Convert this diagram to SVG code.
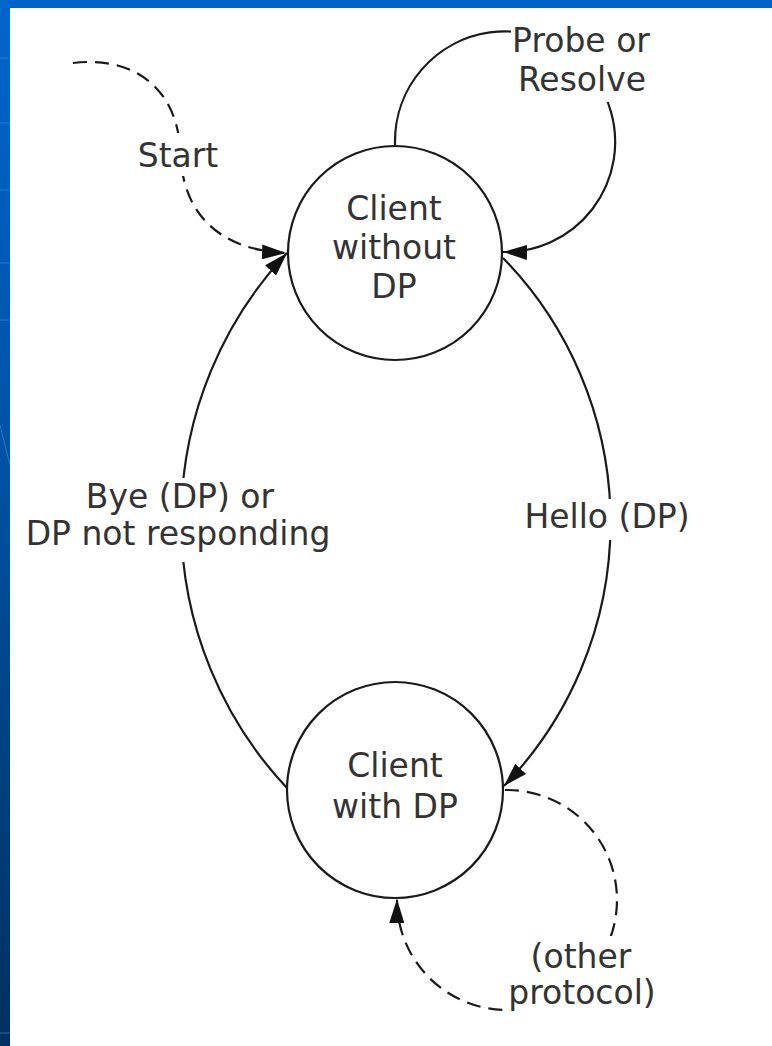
<svg xmlns="http://www.w3.org/2000/svg" width="772" height="1046" viewBox="0 0 772 1046">
  <defs>
    <linearGradient id="side" x1="0" y1="0" x2="0" y2="1">
      <stop offset="0" stop-color="#0066cc"/>
      <stop offset="0.5" stop-color="#004f9e"/>
      <stop offset="1" stop-color="#00305f"/>
    </linearGradient>
    <marker id="arrow" markerUnits="userSpaceOnUse" viewBox="0 0 24 15" refX="24" refY="7.5" markerWidth="24" markerHeight="15" orient="auto">
      <path d="M0,0 L24,7.5 L0,15 Z" fill="#111"/>
    </marker>
    <style>
      .node { fill: #fff; stroke: #1a1a1a; stroke-width: 2.2; }
      .edge { fill: none; stroke: #1a1a1a; stroke-width: 2.2; }
      .dashed { stroke-dasharray: 14 8; }
      .label { font-family: "DejaVu Sans", Verdana, sans-serif; font-size: 33px; fill: #333; text-anchor: middle; }
      .bg { fill: #fff; }
    </style>
  </defs>

  <!-- background -->
  <rect x="0" y="0" width="772" height="1046" fill="#fff"/>
  <rect x="0" y="0" width="772" height="8" fill="#0062c4"/>
  <rect x="0" y="0" width="10" height="1046" fill="url(#side)"/>
  <g stroke="#3f8fe0" stroke-width="1" opacity="0.6">
    <line x1="0" y1="58" x2="10" y2="58"/>
    <line x1="0" y1="123" x2="10" y2="123"/>
    <line x1="0" y1="190" x2="10" y2="190"/>
    <line x1="0" y1="263" x2="10" y2="263"/>
    <line x1="0" y1="320" x2="10" y2="320"/>
    <line x1="0" y1="1033" x2="10" y2="1033"/>
    <line x1="0" y1="425" x2="10" y2="465"/>
  </g>

  <g id="connectors">
    <path id="e-start" class="edge dashed" d="M73,63 C140,55 178,95 180,150 C182,215 220,250 286,253" marker-end="url(#arrow)"/>
    <path id="e-probe" class="edge" d="M395,147 L395,142 A110,110 0 0 1 611,112 A110,110 0 0 1 503,252" marker-end="url(#arrow)"/>
    <path id="e-hello" class="edge" d="M503,258 A379,379 0 0 1 504,786" marker-end="url(#arrow)"/>
    <path id="e-bye" class="edge" d="M287,788 A391,391 0 0 1 287,253" marker-end="url(#arrow)"/>
    <path id="e-other" class="edge dashed" d="M505,790 A110,110 0 1 1 397,899" marker-end="url(#arrow)"/>
  </g>

  <g id="labels">
    <g id="l-start">
      <rect class="bg" x="136" y="133" width="86" height="43"/>
      <text class="label" x="178" y="167">Start</text>
    </g>
    <g id="l-probe">
      <rect class="bg" x="511" y="22" width="145" height="80"/>
      <text class="label" x="581" y="52">Probe or</text>
      <text class="label" x="582" y="91">Resolve</text>
    </g>
    <g id="l-hello">
      <rect class="bg" x="523" y="499" width="170" height="41"/>
      <text class="label" x="607" y="528">Hello (DP)</text>
    </g>
    <g id="l-bye">
      <rect class="bg" x="20" y="478" width="316" height="84"/>
      <text class="label" x="180" y="508">Bye (DP) or</text>
      <text class="label" x="178" y="545">DP not responding</text>
    </g>
    <g id="l-other">
      <rect class="bg" x="509" y="936" width="152" height="76"/>
      <text class="label" x="581" y="968">(other</text>
      <text class="label" x="582" y="1004">protocol)</text>
    </g>
  </g>

  <g id="node-without">
    <circle class="node" cx="395" cy="253" r="107"/>
    <text class="label" x="394" y="220">Client</text>
    <text class="label" x="394" y="259">without</text>
    <text class="label" x="394" y="298">DP</text>
  </g>

  <g id="node-with">
    <circle class="node" cx="395" cy="790" r="108"/>
    <text class="label" x="395" y="777">Client</text>
    <text class="label" x="395" y="818">with DP</text>
  </g>
</svg>
